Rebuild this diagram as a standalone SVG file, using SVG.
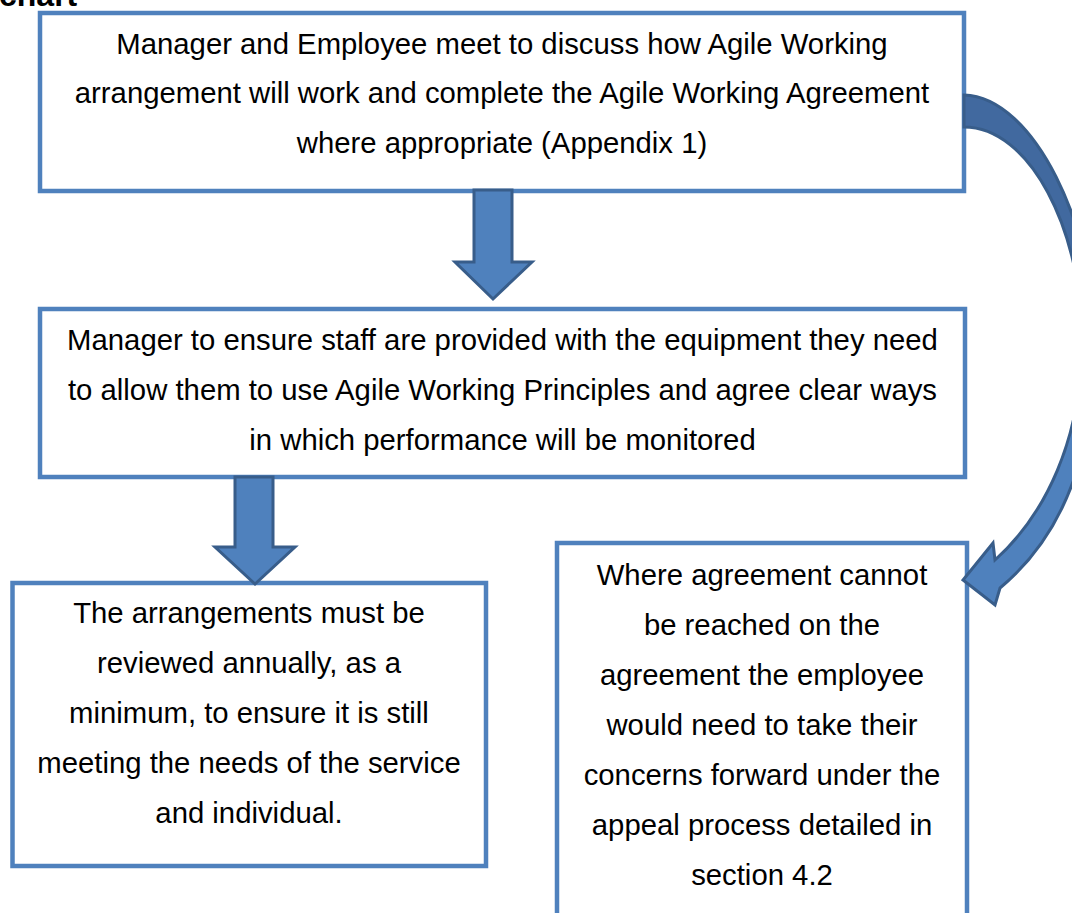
<svg xmlns="http://www.w3.org/2000/svg" width="1072" height="913" viewBox="0 0 1072 913">
  <style>
    .box { fill: #FFFFFF; stroke: #4F81BD; stroke-width: 4.5; }
    .txt { font-family: "Liberation Sans", Arial, sans-serif; font-size: 29.3px; fill: #000000; text-anchor: middle; }
    .head { font-family: "Liberation Sans", Arial, sans-serif; font-size: 32px; font-weight: bold; fill: #000000; }
    .block { fill: #4F81BD; stroke: #385D8A; stroke-width: 3; stroke-linejoin: miter; }
    .curved { fill: url(#curveShade); stroke: #385D8A; stroke-width: 3; stroke-linejoin: miter; }
  </style>
  <defs>
    <linearGradient id="curveShade" x1="0" y1="0" x2="0" y2="1">
      <stop offset="0" stop-color="#41699F"/>
      <stop offset="0.56" stop-color="#41699F"/>
      <stop offset="0.56" stop-color="#4F81BD"/>
      <stop offset="1" stop-color="#4F81BD"/>
    </linearGradient>
  </defs>

  <rect width="1072" height="913" fill="#FFFFFF"/>

  <text class="head" x="-1" y="6">chart</text>

  <g id="node-meet">
    <rect class="box" x="40" y="13" width="924" height="178"/>
    <text class="txt" x="502" y="54">Manager and Employee meet to discuss how Agile Working</text>
    <text class="txt" x="502" y="103">arrangement will work and complete the Agile Working Agreement</text>
    <text class="txt" x="502" y="153">where appropriate (Appendix 1)</text>
  </g>

  <g id="node-equipment">
    <rect class="box" x="40" y="309" width="925" height="168"/>
    <text class="txt" x="502.5" y="350">Manager to ensure staff are provided with the equipment they need</text>
    <text class="txt" x="502.5" y="400">to allow them to use Agile Working Principles and agree clear ways</text>
    <text class="txt" x="502.5" y="450">in which performance will be monitored</text>
  </g>

  <g id="node-review">
    <rect class="box" x="12.5" y="583" width="473.5" height="283"/>
    <text class="txt" x="249" y="623">The arrangements must be</text>
    <text class="txt" x="249" y="673">reviewed annually, as a</text>
    <text class="txt" x="249" y="723">minimum, to ensure it is still</text>
    <text class="txt" x="249" y="773">meeting the needs of the service</text>
    <text class="txt" x="249" y="823">and individual.</text>
  </g>

  <g id="node-appeal">
    <rect class="box" x="557" y="543" width="410" height="390"/>
    <text class="txt" x="762" y="585">Where agreement cannot</text>
    <text class="txt" x="762" y="635">be reached on the</text>
    <text class="txt" x="762" y="685">agreement the employee</text>
    <text class="txt" x="762" y="735">would need to take their</text>
    <text class="txt" x="762" y="785">concerns forward under the</text>
    <text class="txt" x="762" y="835">appeal process detailed in</text>
    <text class="txt" x="762" y="885">section 4.2</text>
  </g>

  <g id="connectors">
    <!-- down arrow: meet -> equipment -->
    <path class="block" d="M474,190 L512,190 L512,262 L532,262 L493,299 L455,262 L474,262 Z"/>
    <!-- down arrow: equipment -> review -->
    <path class="block" d="M235,477 L273,477 L273,547 L295,547 L255,584 L215,547 L235,547 Z"/>
    <!-- curved arrow: meet -> appeal, bowing out past the right edge -->
    <path class="curved" d="M964,95 C1035,97 1095,230 1095,340 C1095,440 1070,530 1000,588 L995,605 L963,580 L993,543 L995,560 C1045,515 1082,440 1082,340 C1082,230 1030,127 964,127 Z"/>
  </g>
</svg>
